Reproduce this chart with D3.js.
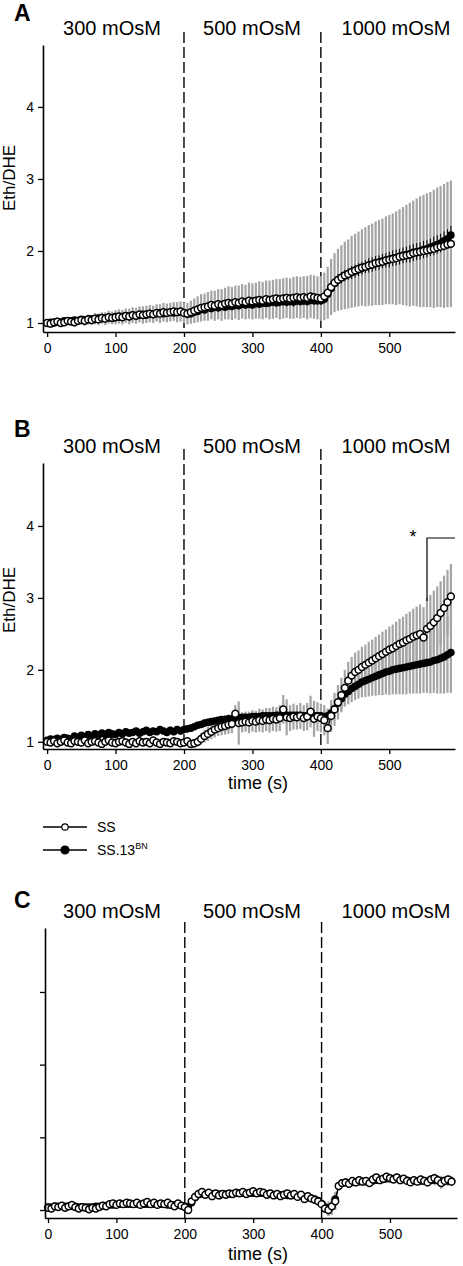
<!DOCTYPE html>
<html><head><meta charset="utf-8">
<script src="https://cdn.jsdelivr.net/npm/d3@7"></script>
<style>
body{margin:0;background:#fff}
svg{display:block}
text{font-family:"Liberation Sans",Arial,sans-serif;fill:#000}
</style>
</head><body><svg id="c" width="463" height="1266"></svg>
<script>
// ---------- DATA ----------
const time = d3.range(0, 595, 5); // sampling grid, s (119 points)
const phaseBounds = [200, 400];
const phaseLabels = ["300 mOsM", "500 mOsM", "1000 mOsM"];
const xTicks = [0, 100, 200, 300, 400, 500];
const yTicks = [1, 2, 3, 4];
const seriesNames = ["SS", "SS.13"];

// Panel A
const A_SS = [
1.00,0.99,1.01,1.02,1.00,1.01,1.03,1.02,1.01,1.03,1.04,1.03,1.05,1.04,1.06,1.05,1.07,1.06,1.08,1.07,
1.08,1.09,1.08,1.10,1.09,1.11,1.10,1.12,1.11,1.12,1.13,1.12,1.14,1.13,1.15,1.14,1.15,1.16,1.15,1.16,
1.14,1.13,1.15,1.17,1.19,1.21,1.22,1.23,1.25,1.24,1.26,1.25,1.27,1.28,1.27,1.29,1.28,1.30,1.29,1.31,
1.30,1.31,1.32,1.31,1.33,1.32,1.33,1.34,1.33,1.34,1.35,1.34,1.35,1.36,1.35,1.36,1.35,1.37,1.36,1.35,
1.34,1.37,1.42,1.50,1.56,1.60,1.63,1.66,1.68,1.71,1.73,1.75,1.77,1.78,1.80,1.81,1.83,1.84,1.85,1.87,
1.88,1.89,1.90,1.92,1.93,1.94,1.95,1.97,1.98,1.99,2.00,2.01,2.02,2.03,2.05,2.06,2.07,2.09,2.10];
const A_BN = [
1.00,1.01,1.00,1.02,1.01,1.03,1.02,1.03,1.04,1.03,1.05,1.04,1.05,1.06,1.05,1.07,1.06,1.07,1.08,1.07,
1.09,1.08,1.09,1.10,1.09,1.11,1.10,1.11,1.12,1.11,1.13,1.12,1.13,1.14,1.13,1.14,1.15,1.14,1.15,1.16,
1.14,1.12,1.13,1.15,1.16,1.19,1.18,1.21,1.20,1.22,1.21,1.23,1.22,1.24,1.23,1.25,1.24,1.26,1.25,1.26,
1.25,1.27,1.26,1.28,1.27,1.28,1.29,1.28,1.29,1.30,1.29,1.30,1.29,1.31,1.30,1.31,1.30,1.32,1.31,1.31,
1.31,1.33,1.40,1.48,1.55,1.60,1.63,1.66,1.68,1.70,1.72,1.74,1.76,1.78,1.80,1.81,1.83,1.84,1.86,1.87,
1.88,1.90,1.91,1.92,1.94,1.95,1.96,1.98,1.99,2.00,2.02,2.03,2.05,2.07,2.09,2.11,2.14,2.17,2.22];
const A_SS_err = [
0.03,0.03,0.04,0.04,0.04,0.05,0.05,0.05,0.06,0.06,0.06,0.07,0.07,0.07,0.08,0.08,0.08,0.09,0.09,0.09,
0.10,0.10,0.10,0.10,0.11,0.11,0.11,0.11,0.12,0.12,0.12,0.12,0.12,0.13,0.13,0.13,0.13,0.13,0.14,0.14,
0.14,0.15,0.16,0.17,0.18,0.19,0.19,0.20,0.20,0.21,0.21,0.22,0.22,0.23,0.23,0.23,0.24,0.24,0.24,0.25,
0.25,0.25,0.26,0.26,0.26,0.27,0.27,0.27,0.28,0.28,0.28,0.28,0.29,0.29,0.29,0.29,0.30,0.30,0.30,0.30,
0.31,0.33,0.36,0.39,0.41,0.43,0.45,0.47,0.48,0.50,0.51,0.52,0.53,0.55,0.56,0.57,0.58,0.59,0.60,0.61,
0.62,0.63,0.65,0.66,0.68,0.70,0.72,0.73,0.75,0.77,0.78,0.79,0.80,0.82,0.83,0.84,0.86,0.87,0.88];
const A_BN_err = [
0.01,0.01,0.01,0.01,0.01,0.02,0.02,0.02,0.02,0.02,0.02,0.02,0.02,0.02,0.02,0.02,0.02,0.03,0.03,0.03,
0.03,0.03,0.03,0.03,0.03,0.03,0.03,0.03,0.03,0.03,0.03,0.03,0.03,0.03,0.04,0.04,0.04,0.04,0.04,0.04,
0.04,0.04,0.04,0.04,0.04,0.04,0.04,0.04,0.04,0.05,0.05,0.05,0.05,0.05,0.05,0.05,0.05,0.05,0.05,0.05,
0.05,0.05,0.05,0.05,0.05,0.05,0.05,0.05,0.06,0.06,0.06,0.06,0.06,0.06,0.06,0.06,0.06,0.06,0.06,0.06,
0.06,0.06,0.07,0.07,0.07,0.08,0.08,0.08,0.08,0.09,0.09,0.09,0.09,0.09,0.10,0.10,0.10,0.10,0.10,0.10,
0.11,0.11,0.11,0.11,0.11,0.11,0.12,0.12,0.12,0.12,0.12,0.12,0.12,0.13,0.13,0.13,0.13,0.13,0.13];

// Panel B
const B_SS = [
1.00,0.99,1.01,0.98,1.00,1.02,0.99,0.98,1.01,1.00,0.99,1.02,0.98,1.00,1.01,0.99,0.97,1.00,1.02,0.99,
0.98,1.00,1.01,0.99,0.97,1.00,0.98,1.01,0.99,1.00,0.98,1.02,0.99,0.97,1.00,0.99,0.98,1.01,1.00,0.98,
0.99,1.01,0.97,0.98,1.00,1.04,1.08,1.11,1.14,1.17,1.19,1.21,1.22,1.24,1.25,1.39,1.26,1.27,1.28,1.27,
1.29,1.28,1.30,1.29,1.31,1.30,1.32,1.31,1.33,1.45,1.34,1.33,1.35,1.34,1.36,1.33,1.35,1.42,1.32,1.35,
1.33,1.30,1.19,1.36,1.45,1.55,1.65,1.75,1.85,1.92,1.97,2.00,2.04,2.07,2.10,2.13,2.16,2.19,2.22,2.25,
2.28,2.30,2.33,2.36,2.38,2.41,2.43,2.46,2.48,2.50,2.45,2.57,2.61,2.66,2.72,2.79,2.86,2.94,3.02];
const B_BN = [
1.02,1.04,1.03,1.05,1.03,1.06,1.05,1.04,1.08,1.06,1.09,1.07,1.10,1.08,1.11,1.09,1.12,1.10,1.13,1.11,
1.10,1.13,1.11,1.14,1.12,1.13,1.15,1.12,1.14,1.16,1.13,1.15,1.14,1.17,1.15,1.13,1.16,1.14,1.17,1.15,
1.17,1.18,1.19,1.21,1.23,1.24,1.26,1.27,1.28,1.29,1.30,1.31,1.31,1.32,1.32,1.33,1.33,1.34,1.34,1.34,
1.35,1.35,1.35,1.36,1.36,1.36,1.36,1.37,1.37,1.37,1.37,1.37,1.37,1.37,1.37,1.36,1.36,1.36,1.36,1.36,
1.36,1.35,1.36,1.40,1.46,1.54,1.60,1.66,1.70,1.74,1.77,1.80,1.83,1.85,1.87,1.89,1.91,1.93,1.95,1.97,
1.98,2.00,2.01,2.02,2.03,2.04,2.05,2.06,2.07,2.08,2.09,2.10,2.11,2.13,2.14,2.16,2.18,2.21,2.24];
const B_SS_err = [
0.02,0.03,0.02,0.03,0.03,0.02,0.03,0.03,0.02,0.03,0.03,0.03,0.02,0.03,0.03,0.03,0.02,0.03,0.03,0.03,
0.03,0.03,0.03,0.03,0.03,0.04,0.03,0.03,0.04,0.03,0.03,0.04,0.03,0.04,0.03,0.04,0.04,0.03,0.04,0.04,
0.04,0.05,0.05,0.06,0.07,0.08,0.09,0.10,0.10,0.11,0.11,0.12,0.12,0.13,0.13,0.12,0.30,0.14,0.14,0.15,
0.15,0.15,0.16,0.16,0.16,0.17,0.17,0.17,0.18,0.20,0.25,0.18,0.18,0.17,0.18,0.18,0.19,0.22,0.25,0.20,
0.20,0.21,0.22,0.22,0.23,0.24,0.24,0.25,0.26,0.26,0.27,0.27,0.28,0.28,0.29,0.29,0.30,0.30,0.31,0.31,
0.32,0.33,0.34,0.35,0.36,0.37,0.38,0.39,0.40,0.41,0.42,0.43,0.43,0.44,0.44,0.44,0.45,0.45,0.45];
const B_BN_err = [
0.02,0.02,0.02,0.02,0.03,0.03,0.03,0.03,0.03,0.03,0.03,0.03,0.03,0.03,0.03,0.04,0.04,0.04,0.04,0.04,
0.04,0.04,0.04,0.04,0.04,0.04,0.04,0.04,0.04,0.04,0.04,0.04,0.05,0.05,0.05,0.05,0.05,0.05,0.05,0.05,
0.05,0.05,0.05,0.05,0.05,0.05,0.05,0.05,0.05,0.05,0.05,0.05,0.06,0.06,0.06,0.06,0.06,0.06,0.06,0.06,
0.06,0.06,0.06,0.06,0.06,0.06,0.06,0.06,0.06,0.06,0.06,0.06,0.06,0.06,0.06,0.06,0.06,0.06,0.06,0.06,
0.06,0.08,0.10,0.12,0.14,0.15,0.16,0.17,0.18,0.19,0.19,0.20,0.21,0.23,0.24,0.25,0.27,0.28,0.30,0.31,
0.33,0.34,0.35,0.36,0.37,0.38,0.38,0.39,0.40,0.41,0.41,0.42,0.44,0.45,0.47,0.49,0.51,0.53,0.56];

// Panel C
const C_SS = [
1.03,1.02,1.05,1.04,1.06,1.03,1.05,1.07,1.04,1.02,1.04,1.03,1.01,1.03,1.02,1.04,1.06,1.05,1.08,1.09,
1.07,1.09,1.08,1.10,1.09,1.08,1.10,1.07,1.09,1.11,1.08,1.10,1.07,1.09,1.08,1.10,1.07,1.05,1.09,1.06,
1.04,1.00,1.12,1.18,1.22,1.25,1.21,1.24,1.19,1.23,1.20,1.22,1.21,1.23,1.22,1.24,1.23,1.25,1.22,1.24,
1.26,1.23,1.25,1.24,1.21,1.23,1.20,1.22,1.19,1.21,1.23,1.20,1.22,1.18,1.21,1.15,1.19,1.16,1.14,1.12,
1.08,1.02,1.00,1.05,1.12,1.33,1.37,1.38,1.36,1.40,1.38,1.41,1.39,1.40,1.37,1.42,1.45,1.41,1.43,1.46,
1.44,1.42,1.45,1.41,1.43,1.40,1.38,1.41,1.39,1.42,1.40,1.38,1.42,1.44,1.41,1.37,1.40,1.42,1.39];
const C_BN = [
1.04,1.04,1.05,1.05,1.05,1.05,1.05,1.05,1.05,1.04,1.04,1.04,1.04,1.04,1.05,1.05,1.06,1.06,1.07,1.07,
1.08,1.08,1.08,1.08,1.08,1.08,1.08,1.08,1.08,1.08,1.08,1.08,1.08,1.08,1.08,1.07,1.07,1.07,1.07,1.06,
1.05,1.04,1.10,1.17,1.21,1.22,1.22,1.22,1.22,1.22,1.22,1.22,1.22,1.22,1.22,1.23,1.23,1.23,1.23,1.23,
1.23,1.23,1.23,1.23,1.22,1.22,1.21,1.21,1.21,1.21,1.20,1.20,1.20,1.19,1.19,1.18,1.17,1.16,1.15,1.13,
1.09,1.04,1.02,1.05,1.15,1.33,1.37,1.38,1.37,1.38,1.38,1.39,1.39,1.39,1.39,1.40,1.41,1.42,1.42,1.43,
1.43,1.43,1.43,1.42,1.42,1.41,1.40,1.40,1.40,1.40,1.40,1.40,1.41,1.41,1.41,1.40,1.40,1.40,1.40];
const C_SS_err = [
0.02,0.03,0.02,0.03,0.02,0.03,0.02,0.03,0.02,0.03,0.03,0.02,0.03,0.02,0.03,0.03,0.02,0.03,0.02,0.03,
0.03,0.02,0.03,0.03,0.02,0.03,0.03,0.02,0.03,0.03,0.02,0.03,0.03,0.02,0.03,0.03,0.02,0.03,0.03,0.03,
0.03,0.05,0.04,0.03,0.03,0.03,0.04,0.03,0.03,0.04,0.03,0.03,0.04,0.03,0.03,0.04,0.03,0.03,0.04,0.03,
0.03,0.04,0.03,0.03,0.04,0.03,0.03,0.04,0.03,0.03,0.04,0.03,0.03,0.04,0.03,0.04,0.04,0.04,0.05,0.05,
0.05,0.06,0.08,0.10,0.12,0.06,0.05,0.04,0.04,0.04,0.04,0.04,0.04,0.04,0.04,0.04,0.04,0.04,0.04,0.05,
0.05,0.05,0.05,0.05,0.05,0.05,0.05,0.05,0.05,0.05,0.05,0.06,0.06,0.06,0.06,0.08,0.06,0.06,0.06];
const C_BN_err = [
0.03,0.03,0.03,0.03,0.03,0.03,0.03,0.03,0.03,0.03,0.03,0.03,0.03,0.03,0.03,0.03,0.03,0.03,0.03,0.03,
0.03,0.03,0.03,0.03,0.03,0.03,0.03,0.03,0.03,0.03,0.03,0.03,0.03,0.03,0.03,0.03,0.03,0.03,0.03,0.03,
0.04,0.06,0.05,0.04,0.04,0.04,0.04,0.04,0.04,0.04,0.04,0.04,0.04,0.04,0.04,0.04,0.04,0.04,0.04,0.04,
0.04,0.04,0.04,0.04,0.04,0.04,0.04,0.04,0.04,0.04,0.04,0.04,0.04,0.04,0.04,0.04,0.04,0.05,0.05,0.05,
0.06,0.08,0.10,0.12,0.10,0.05,0.05,0.05,0.05,0.05,0.05,0.05,0.05,0.05,0.05,0.05,0.05,0.05,0.05,0.05,
0.05,0.05,0.05,0.05,0.05,0.05,0.05,0.05,0.05,0.06,0.06,0.06,0.06,0.07,0.07,0.07,0.07,0.07,0.07];

// ---------- DRAW ----------
const svg = d3.select("#c");
const GRAY = "#a4a4a4";
const labelX = [112, 252, 396];

const panels = [
  {letter:"A", letterY:21, dashTop:32, labelY:35, yRange:[332,45], yDomain:[0.875,4.86],
   xRange:[43,455], xDomain:[-6,596], yTickLabels:true, yTitleY:178, xTitleY:null,
   ss:A_SS, bn:A_BN, ssErr:A_SS_err, bnErr:A_BN_err, bnErrColor:"#000", bnErrW:1},
  {letter:"B", letterY:437, dashTop:449, labelY:453, yRange:[749,463], yDomain:[0.9,4.875],
   xRange:[43,455], xDomain:[-6,596], yTickLabels:true, yTitleY:600, xTitleY:789,
   ss:B_SS, bn:B_BN, ssErr:B_SS_err, bnErr:B_BN_err, bnErrColor:GRAY, bnErrW:2.2},
  {letter:"C", letterY:908, dashTop:922, labelY:918, yRange:[1218,928], yDomain:[0.89,4.88],
   xRange:[45,457], xDomain:[-4.4,598], yTickLabels:false, yTitleY:null, xTitleY:1260,
   ss:C_SS, bn:C_BN, ssErr:C_SS_err, bnErr:C_BN_err, bnErrColor:GRAY, bnErrW:2.2}
];

panels.forEach(p => {
  const g = svg.append("g");
  const x = d3.scaleLinear().domain(p.xDomain).range(p.xRange);
  const y = d3.scaleLinear().domain(p.yDomain).range(p.yRange);

  g.append("text").attr("x",14).attr("y",p.letterY).attr("font-size",23).attr("font-weight","bold").text(p.letter);
  phaseLabels.forEach((l,i)=> g.append("text").attr("x",labelX[i]).attr("y",p.labelY)
     .attr("text-anchor","middle").attr("font-size",20).text(l));
  phaseBounds.forEach(b => g.append("line").attr("x1",x(b)).attr("x2",x(b))
     .attr("y1",p.dashTop).attr("y2",p.yRange[0]).attr("stroke","#000")
     .attr("stroke-width",1.4).attr("stroke-dasharray","11,4"));

  // error bars
  const errs = [
    {v:p.ss, e:p.ssErr, c:GRAY, w:2.2},
    {v:p.bn, e:p.bnErr, c:p.bnErrColor, w:p.bnErrW}
  ];
  errs.sort((a,b)=> (a.c==="#000") - (b.c==="#000"));
  errs.forEach(s => {
    g.append("g").selectAll("line").data(time).enter().append("line")
      .attr("x1",t=>x(t)).attr("x2",t=>x(t))
      .attr("y1",(t,i)=>y(s.v[i]-s.e[i])).attr("y2",(t,i)=>y(s.v[i]+s.e[i]))
      .attr("stroke",s.c).attr("stroke-width",s.w);
  });

  const line = d3.line().x((d,i)=>x(time[i])).y(d=>y(d));
  g.append("path").attr("d",line(p.bn)).attr("fill","none").attr("stroke","#000").attr("stroke-width",1.2);
  g.append("g").selectAll("circle").data(p.bn).enter().append("circle")
    .attr("cx",(d,i)=>x(time[i])).attr("cy",d=>y(d)).attr("r",3.8).attr("fill","#000");
  g.append("path").attr("d",line(p.ss)).attr("fill","none").attr("stroke","#000").attr("stroke-width",1.2);
  g.append("g").selectAll("circle").data(p.ss).enter().append("circle")
    .attr("cx",(d,i)=>x(time[i])).attr("cy",d=>y(d)).attr("r",3.4)
    .attr("fill","#fff").attr("stroke","#000").attr("stroke-width",1.5);

  // axes
  const ya = d3.axisLeft(y).tickValues(yTicks).tickSize(5).tickSizeOuter(0).tickPadding(4)
    .tickFormat(p.yTickLabels ? d3.format("d") : "");
  const yg = g.append("g").attr("transform",`translate(${p.xRange[0]},0)`).call(ya);
  const xa = d3.axisBottom(x).tickValues(xTicks).tickSize(5).tickSizeOuter(0).tickPadding(6)
    .tickFormat(d3.format("d"));
  const xg = g.append("g").attr("transform",`translate(0,${p.yRange[0]})`).call(xa);
  [yg,xg].forEach(ag=>{
    ag.select(".domain").attr("stroke-width",1.6);
    ag.selectAll(".tick line").attr("stroke-width",1.3);
    ag.selectAll("text").attr("font-size",14).attr("font-family",null);
  });

  if(p.yTitleY!==null)
    g.append("text").attr("transform",`translate(15,${p.yTitleY}) rotate(-90)`)
     .attr("text-anchor","middle").attr("font-size",17).text("Eth/DHE");
  if(p.xTitleY!==null)
    g.append("text").attr("x",258).attr("y",p.xTitleY).attr("text-anchor","middle")
     .attr("font-size",18).text("time (s)");
});

// significance bracket in panel B
svg.append("path").attr("d","M427,601V538H455").attr("fill","none").attr("stroke","#000").attr("stroke-width",1.2);
svg.append("text").attr("x",413).attr("y",543).attr("text-anchor","middle").attr("font-size",18).text("*");

// legend
const leg = svg.append("g");
[[827,"open"],[850,"filled"]].forEach(([ly,kind],i)=>{
  leg.append("line").attr("x1",43).attr("x2",87).attr("y1",ly).attr("y2",ly).attr("stroke","#000").attr("stroke-width",1.4);
  leg.append("circle").attr("cx",65).attr("cy",ly).attr("r",kind==="open"?3.2:4)
    .attr("fill",kind==="open"?"#fff":"#000").attr("stroke","#000").attr("stroke-width",1.2);
  const t = leg.append("text").attr("x",97).attr("y",ly+5).attr("font-size",14).text(seriesNames[i]);
  if(i===1) t.append("tspan").attr("font-size",9).attr("dy",-6).text("BN");
});
</script>
</body></html>
